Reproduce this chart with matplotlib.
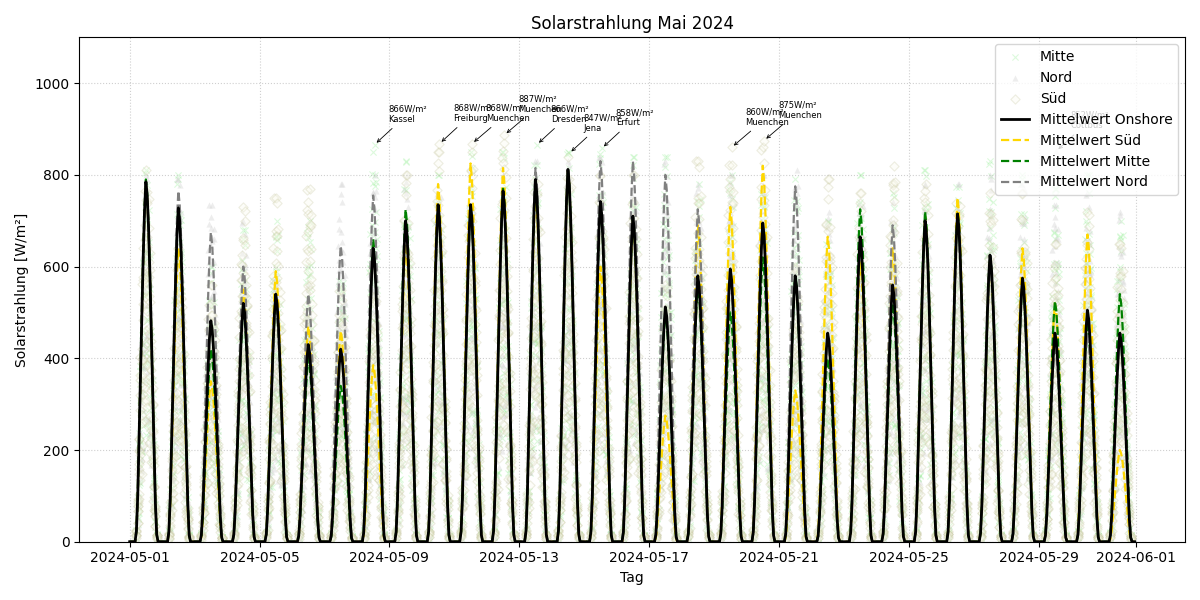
import numpy as np
import pandas as pd
import matplotlib
matplotlib.use("Agg")
import matplotlib.pyplot as plt
import matplotlib.dates as mdates

# ---- data ----
days = pd.date_range("2024-05-01", periods=31, freq="D")

# normalised diurnal shape, hours 0..23
profile = [0, 0, 0, 0, 0, 0.03, 0.13, 0.29, 0.46, 0.63, 0.79, 0.92,
           1.0, 0.96, 0.87, 0.74, 0.58, 0.41, 0.25, 0.11, 0.02, 0, 0, 0]

peak_onshore = [785, 728, 482, 520, 540, 430, 420, 640, 700, 735, 735, 765, 790, 812,
                742, 710, 512, 580, 595, 695, 580, 455, 665, 560, 700, 715, 625, 575,
                455, 505, 455]
peak_sued = [780, 640, 350, 550, 590, 470, 460, 385, 650, 780, 825, 815, 760, 810,
             600, 700, 275, 690, 730, 820, 330, 665, 610, 640, 710, 750, 610, 640,
             520, 670, 200]
peak_mitte = [790, 730, 420, 510, 530, 400, 340, 660, 725, 730, 730, 770, 790, 810,
              740, 710, 500, 560, 500, 620, 580, 400, 725, 520, 720, 720, 620, 560,
              525, 470, 540]
peak_nord = [780, 765, 675, 600, 520, 540, 645, 755, 690, 720, 720, 760, 815, 810,
             830, 830, 800, 725, 580, 700, 775, 440, 650, 690, 700, 700, 600, 560,
             430, 450, 450]

top_sued = [810, 640, 560, 730, 750, 795, 550, 600, 800, 850, 850, 870, 830, 840,
            800, 800, 560, 830, 850, 860, 600, 790, 760, 820, 780, 780, 760, 760,
            650, 720, 650]
top_mitte = [810, 800, 600, 680, 700, 700, 600, 850, 830, 800, 850, 850, 850, 850,
             845, 840, 840, 780, 800, 800, 790, 700, 800, 760, 810, 800, 830, 800,
             770, 800, 700]
top_nord = [800, 790, 760, 700, 560, 560, 780, 800, 800, 800, 780, 800, 830, 830,
            840, 830, 830, 780, 800, 800, 810, 720, 780, 740, 780, 780, 800, 780,
            760, 760, 720]

station_factors = [1.0, 0.95, 0.9, 0.84, 0.78, 0.7, 0.6, 0.48, 0.36]
wobble = [1.0, 0.92, 1.06, 0.85, 1.03, 0.95, 1.1, 0.8, 0.98, 1.05, 0.9, 0.75, 1.08]

ann_day = [8, 10, 11, 12, 13, 14, 15, 19, 20, 29]
ann_val = [866, 868, 868, 887, 866, 847, 858, 860, 875, 852]
ann_city = ["Kassel", "Freiburg", "Muenchen", "Muenchen", "Dresden", "Jena",
            "Erfurt", "Muenchen", "Muenchen", "Cottbus"]
ann_region = ["Mitte", "Süd", "Süd", "Süd", "Mitte", "Mitte", "Mitte", "Süd", "Süd", "Nord"]

# ---- build hourly series ----
times = pd.date_range("2024-05-01", periods=31 * 24, freq="h")
prof = np.array(profile)

def hourly(peaks):
    return np.concatenate([prof * p for p in peaks])

def stations(top, shift):
    xs, ys = [], []
    for d in range(31):
        for h in range(24):
            if prof[h] <= 0:
                continue
            for s, f in enumerate(station_factors):
                w = wobble[(h * 7 + d * 3 + s * 5 + shift) % len(wobble)]
                v = min(prof[h] * top[d] * f * w, top[d])
                xs.append(times[d * 24 + h])
                ys.append(v)
    return xs, ys

mx, my = stations(top_mitte, 0)
nx, ny = stations(top_nord, 4)
sx, sy = stations(top_sued, 8)

ann_x = [pd.Timestamp(2024, 5, d, 13) for d in ann_day]
for x, v, r in zip(ann_x, ann_val, ann_region):
    if r == "Mitte":
        mx.append(x); my.append(v)
    elif r == "Nord":
        nx.append(x); ny.append(v)
    else:
        sx.append(x); sy.append(v)

# ---- plot ----
fig, ax = plt.subplots(figsize=(12, 6), dpi=100)

ax.scatter(mx, my, marker="x", s=20, color="lightgreen", alpha=0.3, linewidths=0.8,
           label="Mitte", zorder=1)
ax.scatter(nx, ny, marker="^", s=20, color="lightgray", alpha=0.4, linewidths=0,
           label="Nord", zorder=1)
ax.scatter(sx, sy, marker="D", s=22, facecolors="#fbfbee", edgecolors="#c8c8a0",
           alpha=0.3, linewidths=0.8, label="Süd", zorder=1)

ax.plot(times, hourly(peak_onshore), color="black", lw=2, label="Mittelwert Onshore", zorder=4)
ax.plot(times, hourly(peak_sued), color="gold", lw=1.6, ls="--", label="Mittelwert Süd", zorder=3)
ax.plot(times, hourly(peak_mitte), color="green", lw=1.6, ls="--", label="Mittelwert Mitte", zorder=3)
ax.plot(times, hourly(peak_nord), color="gray", lw=1.6, ls="--", label="Mittelwert Nord", zorder=3)

for x, v, c in zip(ann_x, ann_val, ann_city):
    ax.annotate(f"{v}W/m²\n{c}", xy=(x, v), xytext=(10, 15), textcoords="offset points",
                fontsize=6, ha="left", va="bottom",
                arrowprops=dict(arrowstyle="->", color="black", lw=0.6), zorder=2)

ax.set_ylim(0, 1100)
ax.set_title("Solarstrahlung Mai 2024")
ax.set_xlabel("Tag")
ax.set_ylabel("Solarstrahlung [W/m²]")
ax.xaxis.set_major_locator(mdates.DayLocator(bymonthday=[1, 5, 9, 13, 17, 21, 25, 29]))
ax.xaxis.set_major_formatter(mdates.DateFormatter("%Y-%m-%d"))
ax.grid(True, linestyle=":", alpha=0.6)
leg = ax.legend(loc="upper right")
leg.set_zorder(10)

fig.tight_layout()
fig.savefig("out.png")
